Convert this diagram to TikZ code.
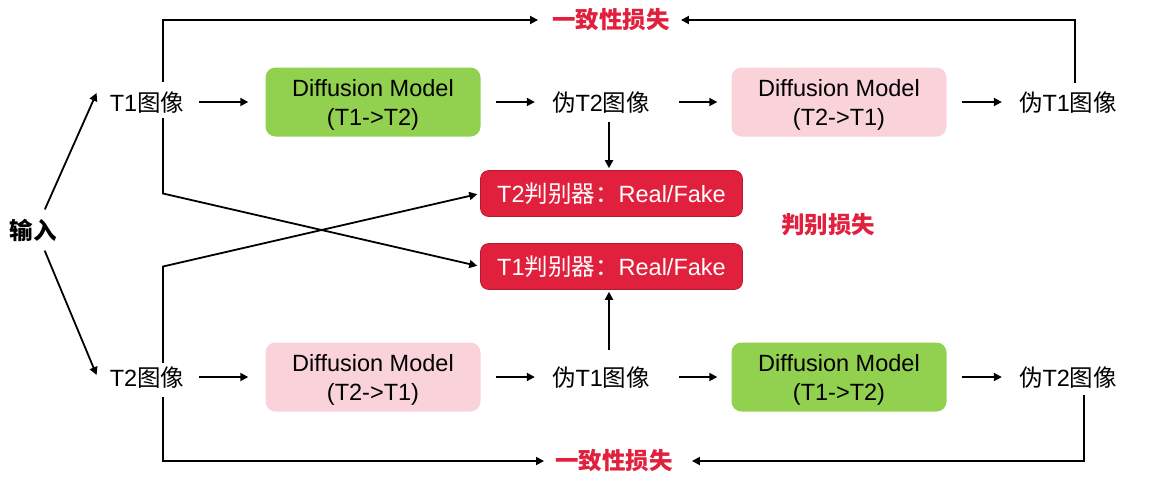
\documentclass[tikz,border=0pt]{standalone}
\usepackage{fontspec}
\setmainfont{Liberation Sans}
\newfontfamily\cjk{Noto Sans CJK SC}
\newcommand{\zh}[1]{{\cjk #1}}
\newcommand{\basesize}{\fontsize{23.5}{29}\selectfont}
\usetikzlibrary{arrows.meta}
\definecolor{modelgreen}{HTML}{92D050}
\definecolor{modelpink}{HTML}{F9D3D9}
\definecolor{discred}{HTML}{E0203C}
\definecolor{lossred}{HTML}{E0203C}
\tikzset{
    img/.style={inner sep=0pt, text height=23pt, text depth=5pt},
    model/.style={rounded corners=10pt, minimum width=215pt, minimum height=69pt, align=center, inner sep=0pt, text depth=0pt},
    disc/.style={rounded corners=8pt, fill=discred, draw=discred!80!black, line width=0.6pt, text=white, minimum width=262pt, minimum height=46pt, inner sep=0pt},
    loss/.style={inner sep=0pt, text height=21pt, text depth=5pt, text=lossred, font=\basesize\cjk\bfseries},
    feed/.style={->, line width=1.8pt},
    flow/.style={feed, shorten <=15pt, shorten >=17pt},
}

\begin{document}
\begin{tikzpicture}[x=1pt, y=-1pt, font=\basesize, >={Triangle[length=8pt,width=8pt]}]
        \useasboundingbox (0,0) rectangle (1163,480);
        %input
        \node[img] (input) at (33,230) {\zh{\bfseries 输入}};
        %upper row
        \node[img] (t1img) at (147,102) {T1\zh{图像}};
        \node[model, fill=modelgreen] (dmA) at (373,102) {Diffusion Model\\(T1->T2)};
        \node[img] (fakeT2) at (601,102) {\zh{伪}T2\zh{图像}};
        \node[model, fill=modelpink] (dmB) at (839,102) {Diffusion Model\\(T2->T1)};
        \node[img] (fakeT1) at (1068,102) {\zh{伪}T1\zh{图像}};
        %lower row
        \node[img] (t2img) at (147,377) {T2\zh{图像}};
        \node[model, fill=modelpink] (dmC) at (373,377) {Diffusion Model\\(T2->T1)};
        \node[img] (fakeT1b) at (601,377) {\zh{伪}T1\zh{图像}};
        \node[model, fill=modelgreen] (dmD) at (839,377) {Diffusion Model\\(T1->T2)};
        \node[img] (fakeT2b) at (1068,377) {\zh{伪}T2\zh{图像}};
        %discriminators
        \node[disc] (discT2) at (611.5,193.5) {T2\zh{判别器：}Real/Fake};
        \node[disc] (discT1) at (611.5,266.5) {T1\zh{判别器：}Real/Fake};
        %losses
        \node[loss] (dloss) at (828,225) {判别损失};
        \node[loss] (clossA) at (611,20) {一致性损失};
        \node[loss] (clossB) at (614,461) {一致性损失};
        %input arrows
        \draw[feed, shorten <=7pt] ([xshift=9pt]input.north) -- ([xshift=-13pt,yshift=9pt]t1img.west);
        \draw[feed, shorten <=7pt] ([xshift=9pt]input.south) -- ([xshift=-13pt,yshift=2pt]t2img.west);
        %upper flow
        \draw[flow] (t1img) -- (dmA);
        \draw[flow] (dmA) -- (fakeT2);
        \draw[flow, shorten <=29pt, shorten >=14pt] (fakeT2) -- (dmB);
        \draw[flow] (dmB) -- (fakeT1);
        %lower flow
        \draw[flow] (t2img) -- (dmC);
        \draw[flow] (dmC) -- (fakeT1b);
        \draw[flow, shorten <=29pt, shorten >=14pt] (fakeT1b) -- (dmD);
        \draw[flow] (dmD) -- (fakeT2b);
        %fake images to discriminators
        \draw[feed, shorten <=6pt, shorten >=2pt] ([xshift=8pt]fakeT2.south) -- ([xshift=8pt]fakeT2.south |- discT2.north);
        \draw[feed, shorten <=13pt, shorten >=2pt] ([xshift=8pt]fakeT1b.north) -- ([xshift=8pt]fakeT1b.north |- discT1.south);
        %real images to discriminators
        \draw[feed, shorten <=2pt, shorten >=3pt] ([xshift=16pt]t1img.south) -- ([xshift=16pt]t1img.south |- discT2.west) -- (discT1.west);
        \draw[feed, shorten >=3pt] ([xshift=16pt]t2img.north) -- ([xshift=16pt]t2img.north |- discT1.west) -- (discT2.west);
        %consistency loops
        \draw[feed, shorten <=6pt, shorten >=14pt] ([xshift=16pt]t1img.north) |- (clossA.west);
        \draw[feed, shorten <=5pt, shorten >=11pt] ([xshift=7pt]fakeT1.north) |- (clossA.east);
        \draw[feed, shorten <=6pt, shorten >=11pt] ([xshift=16pt]t2img.south) |- (clossB.west);
        \draw[feed, shorten <=4pt, shorten >=19pt] ([xshift=16pt]fakeT2b.south) |- (clossB.east);
    \end{tikzpicture}
\end{document}
